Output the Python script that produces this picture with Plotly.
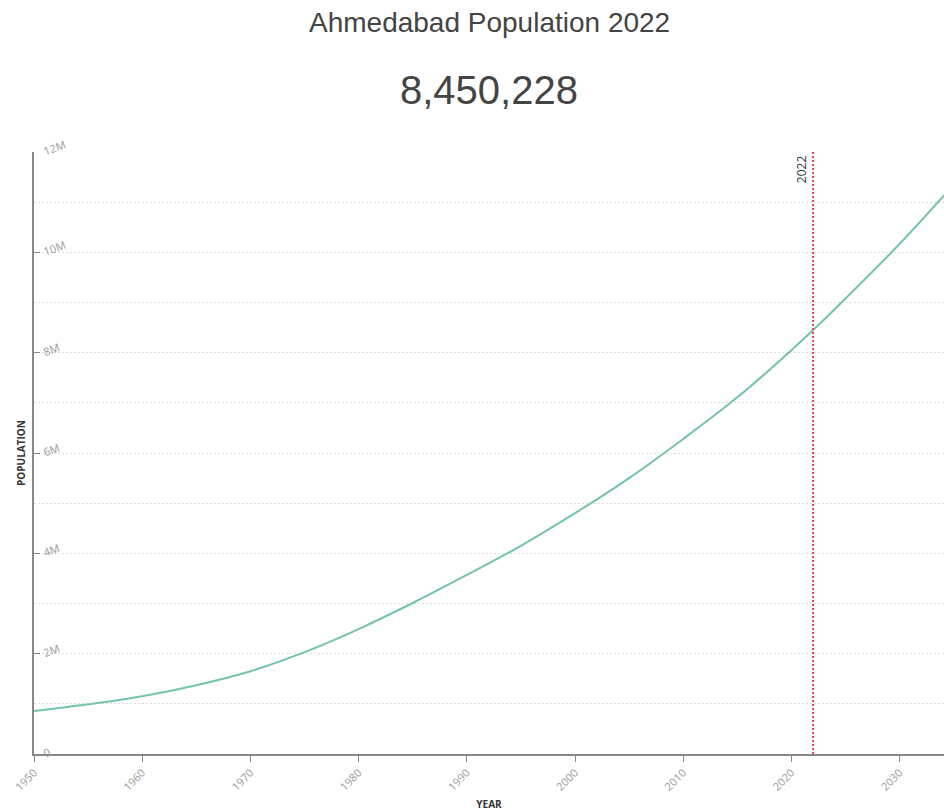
import plotly.graph_objects as go

years = [1950, 1955, 1960, 1965, 1970, 1975, 1980, 1985, 1990, 1995, 2000, 2005, 2010, 2015, 2020, 2022, 2025, 2030, 2035]
population = [857000, 990000, 1150000, 1370000, 1650000, 2030000, 2490000, 3010000, 3570000, 4150000, 4800000, 5500000, 6280000, 7110000, 8050000, 8450228, 9080000, 10170000, 11350000]

title_text = "Ahmedabad Population 2022"
headline_value = "8,450,228"
marker_year = 2022

x_ticks = list(range(1950, 2031, 10))
y_ticks = [0, 2e6, 4e6, 6e6, 8e6, 10e6, 12e6]
y_labels = ["0", "2M", "4M", "6M", "8M", "10M", "12M"]

fig = go.Figure()
fig.add_trace(go.Scatter(
    x=years, y=population, mode="lines",
    line=dict(color="#74c4a6", width=2, shape="spline", smoothing=1.0),
    hoverinfo="skip", showlegend=False,
))

fig.add_shape(type="line", xref="x", yref="paper", x0=marker_year, x1=marker_year, y0=0, y1=1,
              line=dict(color="#e8454a", width=2, dash="2px,2px"))

fig.update_layout(
    width=944, height=812,
    margin=dict(l=34, r=0, t=152, b=58),
    paper_bgcolor="white", plot_bgcolor="white",
)
fig.add_annotation(x=marker_year, xref="x", y=11.65e6, yref="y", text=str(marker_year),
                   textangle=-90, showarrow=False, xanchor="right", xshift=-1,
                   font=dict(family="Open Sans, Arial", size=12, color="#333"))
fig.add_annotation(x=0.5, xref="paper", y=1 + (152 - 22) / 602, yref="paper", yanchor="middle",
                   text=title_text, showarrow=False,
                   font=dict(family="Liberation Sans, Arial", size=28, color="#444"))
fig.add_annotation(x=0.5, xref="paper", y=1 + (152 - 90) / 602, yref="paper", yanchor="middle",
                   text=headline_value, showarrow=False,
                   font=dict(family="Liberation Sans, Arial", size=40, color="#444"))

fig.update_xaxes(
    range=[1950, 2034.1], tickvals=x_ticks, ticktext=[str(v) for v in x_ticks],
    tickangle=-45, ticks="outside", ticklen=6, tickcolor="#888",
    ticklabeloverflow="allow",
    showline=True, linecolor="#888", linewidth=2, showgrid=False, zeroline=False,
    tickfont=dict(family="Open Sans, Arial", size=11, color="#999"),
    title=dict(text="<b>YEAR</b>", font=dict(family="Open Sans, Arial", size=10, color="#333"), standoff=8),
)
fig.update_yaxes(
    range=[0, 12e6], tickvals=y_ticks, ticktext=y_labels,
    tickangle=-20, ticks="inside", ticklen=6, tickcolor="#888",
    ticklabelposition="inside", ticklabeloverflow="allow",
    showline=True, linecolor="#888", linewidth=2, zeroline=False,
    showgrid=True, gridcolor="#dddddd", griddash="2px,2px", gridwidth=1,
    minor=dict(dtick=1e6, tick0=0, showgrid=True, gridcolor="#dddddd", griddash="2px,2px", gridwidth=1, ticks=""),
    tickfont=dict(family="Open Sans, Arial", size=11, color="#999"),
    title=dict(text="<b>POPULATION</b>", font=dict(family="Open Sans, Arial", size=10, color="#333"), standoff=14),
)

fig.write_html("out.html")
